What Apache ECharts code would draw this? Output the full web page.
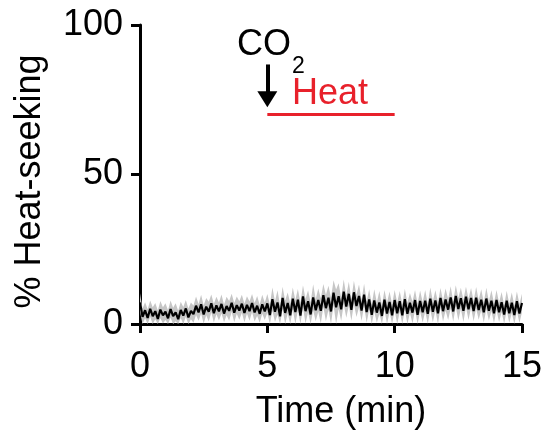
<!DOCTYPE html>
<html>
<head>
<meta charset="utf-8">
<script src="https://cdn.jsdelivr.net/npm/echarts@6/dist/echarts.min.js"></script>
<style>
  html, body { margin: 0; padding: 0; background: #fff; }
  #chart { width: 545px; height: 435px; }
</style>
</head>
<body>
<div id="chart"></div>
<script>
// Time axis: one sample every 0.1 min from 0 to 15 min
const timeStart = 0;
const timeStep = 0.1;

// Mean % heat-seeking per sample
const meanValues = [
  7.2, 2.4, 4.6, 2.0, 5.1, 2.6, 4.3, 1.7, 4.8, 2.9, 4.1,
  1.9, 5.0, 2.6, 3.9, 1.6, 4.7, 2.8, 5.2, 2.2, 4.4,
  3.3, 6.1, 3.9, 6.6, 3.2, 5.8, 4.1, 6.9, 3.6, 6.2,
  4.2, 6.7, 3.5, 6.0, 4.4, 7.1, 3.8, 6.3, 4.5, 6.8,
  3.7, 6.4, 4.3, 7.0, 3.9, 6.1, 3.4, 6.6, 4.2, 6.9,
  3.0, 8.3, 4.1, 7.2, 2.6, 8.7, 3.7, 7.0, 2.9, 8.5,
  4.0, 8.1, 2.8, 9.2, 4.3, 7.6, 3.2, 8.9, 4.6, 8.0,
  4.4, 9.6, 5.3, 8.8, 4.2, 10.5, 5.6, 9.3, 4.9, 10.8,
  5.8, 10.1, 4.7, 10.6, 6.0, 9.4, 4.5, 9.8, 4.0, 8.2,
  3.1, 7.9, 3.8, 7.2, 2.7, 8.1, 3.5, 7.4, 2.9, 8.0,
  3.6, 7.6, 2.9, 8.3, 3.4, 7.1, 3.8, 8.0, 3.1, 7.7,
  3.9, 7.8, 3.4, 8.5, 4.1, 7.9, 3.6, 8.7, 4.3, 8.2,
  4.8, 8.9, 4.2, 9.4, 5.0, 8.6, 4.4, 9.1, 4.9, 8.7,
  4.3, 8.8, 4.7, 8.1, 3.9, 8.5, 4.4, 7.8, 3.6, 8.0,
  3.9, 7.3, 3.2, 7.8, 3.6, 7.1, 3.0, 7.6, 3.5, 7.0
];

// Standard error of the mean per sample (shaded band)
const semValues = [
  3.1, 2.8, 2.7, 2.9, 2.8, 3.0, 2.7, 2.8, 2.9, 2.7, 2.8,
  2.7, 2.9, 2.8, 3.0, 2.8, 2.7, 2.9, 2.8, 3.0, 2.8,
  2.9, 3.1, 2.8, 3.2, 3.0, 2.9, 3.3, 3.0, 3.1, 2.9,
  3.0, 3.2, 2.9, 3.1, 3.3, 3.0, 3.2, 2.9, 3.1, 3.0,
  3.1, 2.9, 3.2, 3.0, 3.1, 3.3, 3.0, 3.2, 2.9, 3.1,
  3.5, 3.9, 3.4, 4.1, 3.6, 3.8, 4.2, 3.5, 4.0, 3.7,
  4.0, 3.6, 4.3, 3.8, 4.1, 3.7, 4.0, 4.4, 3.7, 3.9,
  4.2, 3.8, 4.4, 4.0, 4.6, 4.1, 5.9, 4.3, 3.9, 4.1,
  3.7, 4.0, 3.6, 3.9, 3.7, 3.8, 3.5, 3.7, 3.6, 3.4,
  3.5, 3.7, 3.4, 3.8, 3.6, 3.3, 3.7, 3.5, 3.7, 3.4,
  3.6, 3.4, 3.7, 3.5, 3.7, 3.3, 3.6, 3.4, 3.7, 3.5,
  3.4, 3.6, 3.3, 3.7, 3.5, 3.4, 3.6, 3.3, 3.5, 3.7,
  3.5, 3.7, 3.4, 3.6, 3.8, 3.5, 3.7, 3.4, 3.6, 3.3,
  3.4, 3.6, 3.3, 3.5, 3.4, 3.6, 3.2, 3.5, 3.3, 3.4,
  3.2, 3.4, 3.1, 3.3, 3.2, 3.4, 3.1, 3.3, 3.2, 3.1
];

// Axis ticks
const xTicks = [0, 5, 10, 15];
const yTicks = [0, 50, 100];

// Stimulus annotations (minutes / % heat-seeking)
const co2Time = 5;
const arrowFrom = 86.8;
const arrowTo = 75.2;
const heatStart = 5;
const heatEnd = 10;
const heatLevel = 70;

const times = meanValues.map((_, i) => +(timeStart + i * timeStep).toFixed(1));
const bandData = times.map((t, i) => [t, meanValues[i] - semValues[i], meanValues[i] + semValues[i]]);
const meanLine = times.map((t, i) => [t, meanValues[i]]);

const FONT = 'Liberation Sans, Arial, sans-serif';
const FS = 36;
const chart = echarts.init(document.getElementById('chart'), null, { renderer: 'canvas' });

chart.setOption({
  animation: false,
  backgroundColor: '#ffffff',
  grid: { left: 140, right: 23, top: 25, bottom: 107, containLabel: false },
  xAxis: {
    type: 'value',
    min: xTicks[0],
    max: xTicks[xTicks.length - 1],
    interval: xTicks[1] - xTicks[0],
    name: 'Time (min)',
    nameLocation: 'middle',
    nameGap: 70,
    nameTextStyle: { fontFamily: FONT, fontSize: FS, color: '#000', padding: [0, 0, 0, 20] },
    axisLine: { show: true, onZero: false, lineStyle: { color: '#000', width: 3 } },
    axisTick: { show: true, inside: false, length: 9, lineStyle: { color: '#000', width: 3 } },
    axisLabel: { fontFamily: FONT, fontSize: FS, color: '#000', margin: 25 },
    splitLine: { show: false }
  },
  yAxis: {
    type: 'value',
    min: yTicks[0],
    max: yTicks[yTicks.length - 1],
    interval: yTicks[1] - yTicks[0],
    name: '% Heat-seeking',
    nameLocation: 'middle',
    nameGap: 92,
    nameTextStyle: { fontFamily: FONT, fontSize: FS, color: '#000', padding: [0, 14, 0, 0] },
    axisLine: { show: true, lineStyle: { color: '#000', width: 3 } },
    axisTick: { show: true, inside: false, length: 9, lineStyle: { color: '#000', width: 3 } },
    axisLabel: { fontFamily: FONT, fontSize: FS, color: '#000', margin: 17 },
    splitLine: { show: false }
  },
  series: [
    {
      // SEM band drawn as one polygon: upper edge forward, lower edge back
      name: 'band',
      type: 'custom',
      data: bandData,
      encode: { x: 0, y: [1, 2] },
      silent: true,
      clip: true,
      z: 1,
      renderItem: function (params, api) {
        if (params.dataIndex !== 0) return null;
        const pts = [];
        for (let i = 0; i < bandData.length; i++) {
          pts.push(api.coord([bandData[i][0], bandData[i][2]]));
        }
        for (let i = bandData.length - 1; i >= 0; i--) {
          pts.push(api.coord([bandData[i][0], Math.max(0, bandData[i][1])]));
        }
        return { type: 'polygon', shape: { points: pts }, style: { fill: '#c6c6c6' } };
      }
    },
    {
      name: 'mean',
      type: 'line',
      data: meanLine,
      symbol: 'none',
      lineStyle: { color: '#000', width: 2.2 },
      z: 5,
      markLine: {
        silent: true,
        animation: false,
        label: { show: false },
        data: [
          [
            { coord: [heatStart, heatLevel], symbol: 'none', lineStyle: { color: '#e8212b', width: 3, type: 'solid' } },
            { coord: [heatEnd, heatLevel], symbol: 'none' }
          ],
          [
            { coord: [co2Time, arrowFrom], symbol: 'none', lineStyle: { color: '#000', width: 4, type: 'solid' } },
            { coord: [co2Time, arrowTo], symbol: 'triangle', symbolSize: [20, 16] }
          ]
        ]
      },
      markPoint: {
        silent: true,
        symbol: 'circle',
        symbolSize: 0,
        data: [
          {
            coord: [4.87, 93.4],
            label: { show: true, formatter: 'CO', fontFamily: FONT, fontSize: FS, color: '#000', position: 'inside' }
          },
          {
            coord: [6.22, 86.0],
            label: { show: true, formatter: '2', fontFamily: FONT, fontSize: 23, color: '#000', position: 'inside' }
          },
          {
            coord: [7.46, 77.0],
            label: { show: true, formatter: 'Heat', fontFamily: FONT, fontSize: FS, color: '#e8212b', position: 'inside' }
          }
        ]
      }
    }
  ]
});
</script>
</body>
</html>
